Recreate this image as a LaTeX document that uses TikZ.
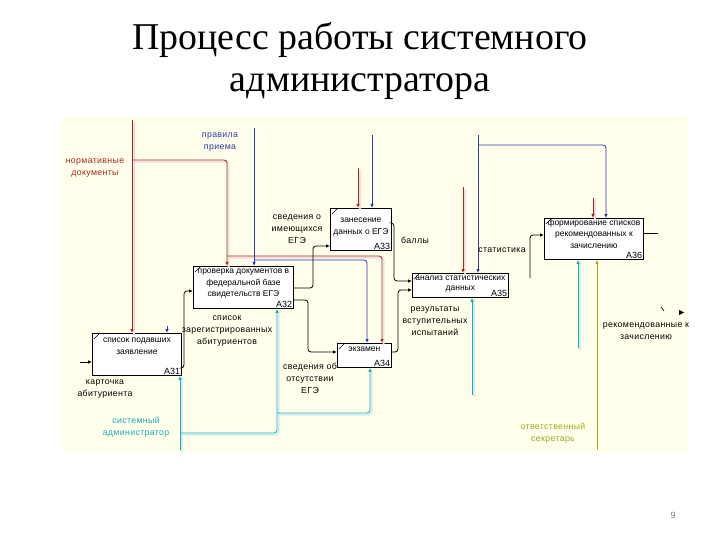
\documentclass[tikz,border=0pt]{standalone}
\usepackage{fontspec}
\setmainfont{Liberation Serif}
\newfontfamily\diagfont{Liberation Sans}
\newfontfamily\labelfont[LetterSpace=4]{Liberation Sans}
\usetikzlibrary{arrows.meta}

\definecolor{ctrlred}{RGB}{165,40,30}
\definecolor{rulesblue}{RGB}{45,55,175}
\definecolor{mechteal}{RGB}{30,170,178}
\definecolor{secolive}{RGB}{165,165,30}
\definecolor{paper}{RGB}{255,255,236}

\begin{document}
\begin{tikzpicture}[x=1bp,y=-1bp,
    actbox/.style={draw=black, line width=0.8bp, fill=white, anchor=north west, inner sep=0pt},
    boxtext/.style={font=\diagfont\fontsize{8.5}{11.5}\selectfont, align=center, inner sep=0pt, anchor=north},
    boxnum/.style={font=\diagfont\fontsize{9}{10}\selectfont, inner sep=1.5bp, anchor=south east},
    arrowlabel/.style={font=\labelfont\fontsize{8.8}{12}\selectfont, align=center, inner sep=0pt},
    flow/.style={line width=0.8bp, rounded corners=3bp, -{Latex[length=4bp,width=3.5bp]}},
    glow/.style={preaction={draw=#1, line width=2bp, arrows=-, transform canvas={shift={(1.6bp,-1.6bp)}}}},
    ctrlline/.style={flow, draw=ctrlred, glow=ctrlred!15},
    ruleline/.style={flow, draw=rulesblue},
    mechline/.style={flow, draw=mechteal, glow=mechteal!20},
    staffline/.style={flow, draw=secolive},
    dataline/.style={flow, draw=black},
    plainline/.style={line width=0.8bp, rounded corners=3bp}]
    \useasboundingbox (0,0) rectangle (720,540);
    \fill[white] (0,0) rectangle (720,540);
    {\diagfont

    % Title
    \node[anchor=base, font=\rmfamily\fontsize{38}{44}\selectfont] (title1) at (360,50) {Процесс работы системного};%
    \node[anchor=base, font=\rmfamily\fontsize{38}{44}\selectfont] (title2) at (360,92) {администратора};%

    % Diagram sheet
    \fill[paper] (62,117) rectangle (688,452);%

    % Drawing box A31
    \node[actbox, minimum width=89bp, minimum height=42bp] (a31) at (92,333) {};%
    \node[boxtext] (a31t) at ([yshift=-5bp]a31.north) {список подавших\\заявление};%
    \node[boxnum] (a31n) at (a31.south east) {A31};%

    % Drawing box A32
    \node[actbox, minimum width=100bp, minimum height=42bp] (a32) at (193,266) {};%
    \node[boxtext] (a32t) at ([yshift=-3bp]a32.north) {проверка документов в\\федеральной базе\\свидетельств ЕГЭ};%
    \node[boxnum] (a32n) at (a32.south east) {A32};%

    % Drawing box A33
    \node[actbox, minimum width=61bp, minimum height=42bp] (a33) at (330,208) {};%
    \node[boxtext] (a33t) at ([yshift=-10bp]a33.north) {занесение\\данных о ЕГЭ};%
    \node[boxnum] (a33n) at (a33.south east) {A33};%

    % Drawing box A34
    \node[actbox, minimum width=54bp, minimum height=24bp] (a34) at (337,343) {};%
    \node[boxtext] (a34t) at ([yshift=-4bp]a34.north) {экзамен};%
    \node[boxnum] (a34n) at (a34.south east) {A34};%

    % Drawing box A35
    \node[actbox, minimum width=96bp, minimum height=24bp] (a35) at (412,273) {};%
    \node[boxtext, font=\diagfont\fontsize{8.5}{10}\selectfont] (a35t) at ([yshift=-2.5bp]a35.north) {анализ статистических\\данных};%
    \node[boxnum] (a35n) at (a35.south east) {A35};%

    % Drawing box A36
    \node[actbox, minimum width=99bp, minimum height=41bp] (a36) at (544,218) {};%
    \node[boxtext] (a36t) at ([yshift=-1bp]a36.north) {формирование списков\\рекомендованных к\\зачислению};%
    \node[boxnum] (a36n) at (a36.south east) {A36};%

    % Corner ticks of the boxes
    \foreach \b in {a31,a32,a33,a34,a35,a36}
        \draw[line width=0.5bp] ([shift={(2,6)}]\b.north west) -- ++(5,-5);%

    % Drawing control lines (red)
    \coordinate (ndtop) at (132,120);
    \coordinate (ndturn) at (227,160);
    \coordinate (ndexam) at (382,256);
    \coordinate (nda33) at (358,168);
    \coordinate (nda35) at (463,187);
    \coordinate (nda36) at (593,198);
    \draw[ctrlline] (ndtop) -- (ndtop |- a31.north);%
    \draw[ctrlline] (ndtop |- ndturn) -| (ndturn |- a32.north);%
    \draw[ctrlline] (ndturn |- ndexam) -| (ndexam |- a34.north);%
    \draw[ctrlline] (nda33) -- (nda33 |- a33.north);%
    \draw[ctrlline] (nda35) -- (nda35 |- a35.north);%
    \draw[ctrlline] (nda36) -- (nda36 |- a36.north);%
    \node[arrowlabel, text=ctrlred] (ndlabel) at (95,168) {нормативные\\документы};%

    % Drawing control lines (blue)
    \coordinate (prtop) at (254,128);
    \coordinate (prexam) at (367,260);
    \coordinate (pra31) at (167,326);
    \coordinate (pra33) at (372,135);
    \coordinate (pra35) at (478,135);
    \coordinate (pra36) at (606,145);
    \draw[ruleline] (prtop) -- (prtop |- a32.north);%
    \draw[ruleline] (prtop |- prexam) -| (prexam |- a34.north);%
    \draw[ruleline] (pra31) -- (pra31 |- a31.north);%
    \draw[ruleline] (pra33) -- (pra33 |- a33.north);%
    \draw[ruleline] (pra35) -- (pra35 |- a35.north);%
    \draw[ruleline] (pra35 |- pra36) -| (pra36 |- a36.north);%
    \node[arrowlabel, text=rulesblue] (prlabel) at (220,142) {правила\\приема};%

    % Drawing mechanism lines (teal)
    \coordinate (sysbot) at (180,450);
    \coordinate (systurn) at (277,433);
    \coordinate (sysexam) at (370,413);
    \coordinate (sysa35) at (472,395);
    \coordinate (sysa36) at (578,348);
    \draw[mechline] (sysbot) -- (sysbot |- a31.south);%
    \draw[mechline] (sysbot |- systurn) -| (systurn |- a32.south);%
    \draw[mechline] (systurn |- sysexam) -| (sysexam |- a34.south);%
    \draw[mechline] (sysa35) -- (sysa35 |- a35.south);%
    \draw[mechline] (sysa36) -- (sysa36 |- a36.south);%
    \node[arrowlabel, text=mechteal] (syslabel) at (136,427) {системный\\администратор};%

    % Drawing mechanism line (olive)
    \coordinate (secbot) at (597,450);
    \draw[staffline] (secbot) -- (secbot |- a36.south);%
    \node[arrowlabel, text=secolive] (seclabel) at (553,433) {ответственный\\секретарь};%

    % Drawing inputs and outputs (black)
    \coordinate (cardin) at (80,362);
    \draw[dataline] (cardin) -- (cardin -| a31.west);%
    \node[arrowlabel] (cardlabel) at (105,389) {карточка\\абитуриента};%

    \coordinate (regout) at (0,368);
    \coordinate (regbend) at (184,291);
    \draw[dataline] (a31.east |- regout) -| (regbend) -- (regbend -| a32.west);%
    \node[arrowlabel] (reglabel) at (227,331) {список\\зарегистрированных\\абитуриентов};%

    \coordinate (egeout) at (313,288);
    \coordinate (egein) at (313,246);
    \draw[dataline] (a32.east |- egeout) -- (egeout) -- (egein) -- (egein -| a33.west);%
    \node[arrowlabel] (egelabel) at (297,229) {сведения о\\имеющихся\\ЕГЭ};%

    \coordinate (noegeout) at (308,300);
    \coordinate (noegein) at (308,352);
    \draw[dataline] (a32.east |- noegeout) -- (noegeout) -- (noegein) -- (noegein -| a34.west);%
    \node[arrowlabel] (noegelabel) at (310,378) {сведения об\\отсутствии\\ЕГЭ};%

    \coordinate (ballout) at (394,223);
    \coordinate (ballin) at (394,281);
    \draw[dataline] (a33.east |- ballout) -- (ballout) -- (ballin) -- (ballin -| a35.west);%
    \node[arrowlabel] (balllabel) at (415,240) {баллы};%

    \coordinate (resout) at (398,352);
    \coordinate (resin) at (398,290);
    \draw[dataline] (a34.east |- resout) -- (resout) -- (resin) -- (resin -| a35.west);%
    \node[arrowlabel] (reslabel) at (435,321) {результаты\\вступительных\\испытаний};%

    \coordinate (statfoot) at (530,278);
    \coordinate (statin) at (530,235);
    \draw[dataline] (statfoot) -- (statin) -- (statin -| a36.west);%
    \node[arrowlabel] (statlabel) at (502,250) {статистика};%

    \coordinate (recend) at (658,233);
    \draw[plainline] (a36.east |- recend) -- (recend);%
    \node[arrowlabel] (reclabel) at (646,331) {рекомендованные к\\зачислению};%
    \draw[line width=0.6bp] (661,307) -- (664,311);%
    \fill (679,310) -- (684,312.5) -- (679,315) -- cycle;%

    % Page number
    \node[text=gray, font=\diagfont\fontsize{9}{10}\selectfont] (pagenum) at (673,515) {9};%
    }
\end{tikzpicture}
\end{document}
